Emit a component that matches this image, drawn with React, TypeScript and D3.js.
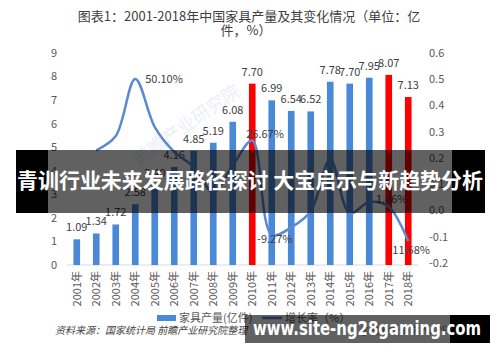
import React from 'react';
import * as d3 from 'd3';

// 2001-2018 furniture output (100m pieces) and yearly growth rate
const years = ['2001', '2002', '2003', '2004', '2005', '2006', '2007', '2008', '2009',
  '2010', '2011', '2012', '2013', '2014', '2015', '2016', '2017', '2018'];
const output = [1.09, 1.34, 1.72, 2.58, 3.40, 4.16, 4.85, 5.19, 6.08,
  7.70, 6.99, 6.54, 6.52, 7.78, 7.70, 7.95, 8.07, 7.13];
const growthYears = years.slice(1);
const growth = [0.2294, 0.2836, 0.501, 0.318, 0.2235, 0.1659, 0.0701, 0.1715,
  0.2667, -0.0927, -0.0644, -0.0031, 0.1933, -0.0103, 0.0325, 0.0146, -0.1168];
const redYears = ['2010', '2017', '2018'];
// growth labels shown on the chart, and where they sit relative to the point
const growthLabels = [
  { year: '2004', text: '50.10%', place: 'right' },
  { year: '2010', text: '26.67%', place: 'aboveRight' },
  { year: '2011', text: '-9.27%', place: 'center' },
  { year: '2017', text: '1.46%', place: 'above' },
  { year: '2018', text: '-11.68%', place: 'below' },
];
const leftTicks = [0, 1, 2, 3, 4, 5, 6, 7, 8, 9];
const rightTicks = [-0.2, -0.1, 0, 0.1, 0.2, 0.3, 0.4, 0.5, 0.6];

const FONT = '"Noto Sans CJK SC", "Noto Sans", sans-serif';
const BLUE = '#4a88d8';
const LINE = '#5b8ad0';
const TXT = '#595959';

export default function App() {
  const x = d3.scaleBand<string>().domain(years).range([67, 418])
    .paddingInner(0.66).paddingOuter(0.33);
  const yL = d3.scaleLinear().domain([0, 9]).range([265, 53]);
  const yR = d3.scaleLinear().domain([-0.2, 0.6]).range([263, 53]);
  const cx = (yr: string) => (x(yr) as number) + x.bandwidth() / 2;

  const line = d3.line<number>()
    .x((_, i) => cx(growthYears[i]))
    .y(d => yR(d))
    .curve(d3.curveCatmullRom.alpha(0.5));

  const labelPos = (yr: string, place: string) => {
    const i = growthYears.indexOf(yr);
    const px = cx(yr), py = yR(growth[i]);
    if (place === 'right') return { x: px + 10, y: py + 4, anchor: 'start' };
    if (place === 'aboveRight') return { x: px - 6, y: py - 2, anchor: 'start' };
    if (place === 'above') return { x: px + 3, y: py - 4, anchor: 'middle' };
    if (place === 'below') return { x: px + 1, y: py + 13, anchor: 'middle' };
    return { x: px + 3, y: py + 8, anchor: 'middle' };
  };

  return (
    <svg width={500} height={362} style={{ position: 'absolute', left: 0, top: 0, background: '#fff' }}
      fontFamily={FONT}>
      <rect width={500} height={362} fill="#fff" />

      {/* title */}
      <text x={249} y={21} textAnchor="middle" fontSize={13} fill="#404040">
        图表1：2001-2018年中国家具产量及其变化情况（单位：亿
      </text>
      <text x={246} y={35} textAnchor="middle" fontSize={13} fill="#404040">件，%）</text>

      {/* watermark */}
      <text x={190} y={130} fontSize={18} fill="#dde6f2" opacity={0.6}
        transform="rotate(-35 190 130)" textAnchor="middle">前瞻产业研究院</text>

      {/* axes labels */}
      {leftTicks.map(t => (
        <text key={'l' + t} x={57} y={yL(t)} dy="0.35em" textAnchor="end" fontSize={11} fill={TXT}>{t}</text>
      ))}
      {rightTicks.map(t => (
        <text key={'r' + t} x={429} y={yR(t)} dy="0.35em" textAnchor="start" fontSize={11} fill={TXT}>
          {d3.format('.1f')(t).replace('−', '-')}
        </text>
      ))}
      <line x1={67} x2={418} y1={yL(0)} y2={yL(0)} stroke="#d9d9d9" />

      {/* bars */}
      {years.map((yr, i) => (
        <rect key={yr} x={x(yr)} y={yL(output[i])} width={x.bandwidth()} height={yL(0) - yL(output[i])}
          fill={redYears.includes(yr) ? '#ff0000' : BLUE} />
      ))}
      {years.map((yr, i) => (
        <text key={'bl' + yr} x={cx(yr)} y={yL(output[i]) - 8} textAnchor="middle" fontSize={11} fill="#404040">
          {output[i].toFixed(2)}
        </text>
      ))}

      {/* growth line */}
      <path d={line(growth) || ''} fill="none" stroke={LINE} strokeWidth={2.5} />
      {growthLabels.map(g => {
        const p = labelPos(g.year, g.place);
        return (
          <text key={'g' + g.year} x={p.x} y={p.y} textAnchor={p.anchor} fontSize={11} fill="#404040">{g.text}</text>
        );
      })}

      {/* x tick labels */}
      {years.map(yr => (
        <text key={'x' + yr} transform={`translate(${cx(yr)},271) rotate(-90)`} dy="0.35em"
          textAnchor="end" fontSize={11} fill={TXT}>{yr + '年'}</text>
      ))}

      {/* legend */}
      <rect x={157} y={315} width={19} height={6} fill={BLUE} />
      <text x={179} y={322} fontSize={11} fill={TXT}>家具产量(亿件)</text>
      <line x1={262} x2={282} y1={318} y2={318} stroke={LINE} strokeWidth={2.5} />
      <text x={285} y={322} fontSize={11} fill={TXT}>增长率（%）</text>

      {/* source */}
      <text x={55} y={334} fontSize={10} fontStyle="italic" fill="#444">资料来源：国家统计局 前瞻产业研究院整理</text>
      <text x={360} y={334} fontSize={10} fill="#888">@前瞻经济学人APP</text>

      {/* overlay banner */}
      <rect x={16} y={150} width={32} height={63} fill="#000" />
      <rect x={452} y={150} width={33} height={63} fill="#000" />
      <rect x={48} y={150} width={404} height={63} fill="#000" opacity={0.62} />
      <text x={250} y={188} textAnchor="middle" fontSize={21} fontWeight="bold" fill="#fff"
        textLength={466} lengthAdjust="spacingAndGlyphs">青训行业未来发展路径探讨 大宝启示与新趋势分析</text>

      {/* bottom url banner */}
      <rect x={245} y={315} width={205} height={28} fill="#000" opacity={0.62} />
      <rect x={450} y={315} width={40} height={28} fill="#000" />
      <text x={253} y={335} fontSize={19} fontWeight="bold" fill="#fff" fontFamily='"DejaVu Sans", sans-serif'
        textLength={228} lengthAdjust="spacingAndGlyphs">www.site-ng28gaming.com</text>
    </svg>
  );
}
